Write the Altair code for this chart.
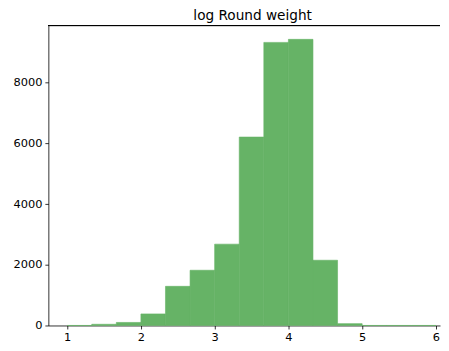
import altair as alt
import pandas as pd

# Histogram of log Round weight: 15 bins of width 1/3 from 1 to 6
bin_starts = [1 + k / 3 for k in range(15)]
bin_ends = [1 + (k + 1) / 3 for k in range(15)]
counts = [0, 40, 100, 380, 1290, 1820, 2680, 6210, 9330, 9430, 2150, 60, 0, 0, 0]
x_ticks = [1, 2, 3, 4, 5, 6]
y_ticks = [0, 2000, 4000, 6000, 8000]
title_text = "log Round weight"

df = pd.DataFrame({"start": bin_starts, "end": bin_ends, "count": counts})

W, H = 393, 301
x_scale = alt.Scale(domain=[0.745, 0.745 + W / 74.0], nice=False, zero=False)
y_scale = alt.Scale(domain=[0, 9886], nice=False)

axis_style = dict(title=None, grid=False, format="d", labelFlush=False,
                  tickSize=3.5, labelPadding=3, domainColor="black",
                  tickColor="black", labelColor="black",
                  labelFont="DejaVu Sans", labelFontSize=11.4,
                  domainWidth=0.8, tickWidth=0.8)

bars = alt.Chart(df).mark_rect(color="#66b366", stroke="#66b366",
                               strokeWidth=0.6).encode(
    x=alt.X("start:Q", scale=x_scale, axis=alt.Axis(values=x_ticks, **axis_style)),
    x2="end:Q",
    y=alt.Y("count:Q", scale=y_scale, axis=alt.Axis(values=y_ticks, **axis_style)),
)

top_spine = alt.Chart(df).mark_rule(color="black", strokeWidth=0.8).encode(
    x=alt.value(0), x2=alt.value(W), y=alt.value(0)
)

chart = alt.layer(bars, top_spine).properties(
    width=W, height=H,
    title=alt.TitleParams(title_text, font="DejaVu Sans", fontSize=13.7,
                          fontWeight="normal", color="black", offset=2,
                          frame="group", dx=8.5),
    padding={"left": 4.5, "top": 0, "right": 0, "bottom": 0},
).configure_view(stroke=None)

chart.save("out.html", embed_options={"renderer": "svg", "actions": False})
